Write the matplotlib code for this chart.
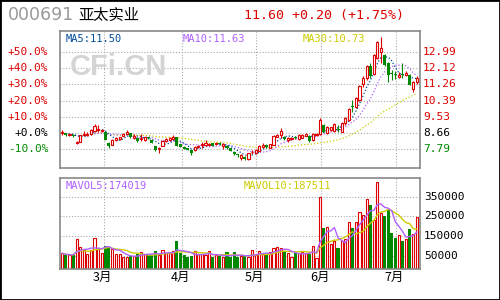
import numpy as np
import pandas as pd
import matplotlib
matplotlib.use('Agg')
import matplotlib.pyplot as plt
from matplotlib.patches import Rectangle

plt.rcParams['font.family'] = ['DejaVu Sans Mono', 'Noto Sans CJK SC']

# ---- data ----
stock_code = '000691'
stock_name = '亚太实业'
quote_text = '11.60 +0.20 (+1.75%)'
ma_text = ['MA5:11.50', 'MA10:11.63', 'MA30:10.73']
mavol_text = ['MAVOL5:174019', 'MAVOL10:187511']

base_price = 8.66
pct_levels = [-10, 0, 10, 20, 30, 40, 50]
price_labels = ['7.79', '8.66', '9.53', '10.39', '11.26', '12.12', '12.99']
vol_levels = [50000, 150000, 250000, 350000]

month_labels = ['3月', '4月', '5月', '6月', '7月']
month_pos = [11.6, 33.4, 54.1, 72.3, 93.2]

opn = np.array([8.66, 8.64, 8.55, 8.55, 8.13, 8.20, 8.55, 8.57, 8.62, 8.76,
                8.80, 8.76, 8.74, 8.14, 8.04, 8.26, 8.35, 8.52, 8.62, 8.64,
                8.38, 8.40, 8.33, 8.28, 8.42, 8.30, 7.94, 7.80, 7.96, 8.23,
                8.27, 8.34, 8.42, 8.05, 7.93, 7.84, 7.75, 7.75, 7.89, 8.00,
                8.02, 8.04, 8.11, 8.05, 8.14, 7.98, 7.98, 7.84, 7.66, 7.52,
                7.34, 7.38, 7.27, 7.62, 7.57, 7.70, 7.93, 8.02, 7.88, 8.02,
                8.46, 8.55, 8.46, 8.29, 8.32, 8.46, 8.34, 8.41, 8.52, 8.50,
                8.27, 8.55, 8.59, 9.09, 8.64, 8.82, 8.78, 8.82, 8.73, 9.18,
                9.35, 10.10, 10.07, 10.42, 11.26, 11.58, 12.24, 11.80, 12.69, 12.97,
                12.83, 12.38, 11.85, 11.80, 11.67, 11.80, 11.76, 11.76, 11.00, 11.40])
high = np.array([8.83, 8.68, 8.62, 8.60, 8.22, 8.57, 8.78, 8.70, 8.87, 9.14,
                 9.08, 8.86, 8.76, 8.20, 8.33, 8.42, 8.46, 8.64, 8.80, 8.68,
                 8.60, 8.44, 8.60, 8.45, 8.46, 8.33, 7.98, 7.92, 8.26, 8.38,
                 8.44, 8.56, 8.44, 8.08, 7.96, 7.88, 7.78, 7.96, 8.02, 8.16,
                 8.28, 8.12, 8.14, 8.16, 8.18, 8.10, 8.00, 7.86, 7.70, 7.56,
                 7.52, 7.42, 7.60, 7.75, 7.80, 8.00, 8.10, 8.06, 8.08, 8.55,
                 8.62, 8.91, 8.50, 8.46, 8.42, 8.50, 8.58, 8.60, 8.64, 8.54,
                 8.64, 8.66, 9.44, 9.14, 9.05, 9.00, 9.18, 9.08, 9.24, 9.50,
                 9.98, 10.42, 10.56, 11.20, 11.70, 12.30, 12.40, 12.88, 13.56, 13.81,
                 12.90, 12.45, 12.00, 11.95, 11.90, 12.38, 11.95, 11.80, 11.45, 11.72])
low = np.array([8.55, 8.50, 8.48, 8.47, 8.08, 8.18, 8.48, 8.52, 8.55, 8.72,
                8.72, 8.70, 8.28, 7.88, 8.02, 8.22, 8.30, 8.48, 8.58, 8.38,
                8.35, 8.18, 8.24, 8.25, 8.34, 8.12, 7.70, 7.58, 7.94, 8.20,
                8.25, 8.30, 7.96, 7.90, 7.78, 7.74, 7.48, 7.72, 7.86, 7.86,
                7.98, 7.98, 7.96, 8.02, 8.02, 7.82, 7.82, 7.68, 7.50, 7.38,
                7.24, 7.20, 7.22, 7.55, 7.54, 7.68, 7.84, 7.88, 7.85, 8.00,
                8.42, 8.38, 8.28, 8.20, 8.28, 8.34, 8.30, 8.38, 8.48, 8.20,
                8.24, 8.50, 8.55, 8.70, 8.60, 8.75, 8.74, 8.70, 8.70, 9.10,
                9.30, 9.80, 10.00, 10.38, 11.10, 11.50, 11.60, 11.75, 12.60, 12.40,
                12.25, 11.40, 11.50, 11.55, 11.60, 11.60, 11.70, 11.20, 10.87, 11.30])
close = np.array([8.70, 8.56, 8.57, 8.52, 8.20, 8.55, 8.60, 8.62, 8.84, 9.05,
                  8.90, 8.80, 8.30, 7.98, 8.30, 8.38, 8.42, 8.59, 8.73, 8.42,
                  8.52, 8.22, 8.41, 8.42, 8.37, 8.15, 7.74, 7.85, 8.24, 8.34,
                  8.41, 8.42, 7.98, 7.93, 7.81, 7.77, 7.61, 7.93, 7.98, 8.03,
                  8.11, 8.06, 7.98, 8.13, 8.05, 8.05, 7.84, 7.70, 7.52, 7.48,
                  7.46, 7.27, 7.57, 7.66, 7.75, 7.96, 8.02, 7.93, 8.05, 8.52,
                  8.55, 8.77, 8.32, 8.38, 8.38, 8.38, 8.55, 8.55, 8.59, 8.23,
                  8.59, 8.59, 9.35, 8.73, 8.96, 8.96, 9.14, 8.80, 9.21, 9.44,
                  9.93, 10.05, 10.51, 11.17, 11.58, 12.24, 11.71, 12.83, 13.54, 13.19,
                  12.30, 11.76, 11.80, 11.74, 11.76, 11.74, 11.85, 11.23, 11.40, 11.60])
volume = np.array([62700, 52500, 52500, 52500, 134200, 93400, 79800, 57600, 79800, 139300,
                   88300, 62700, 101900, 93400, 84800, 57600, 57600, 42300, 42300, 49100,
                   49100, 57600, 67800, 57600, 57600, 54200, 72900, 54200, 78000, 62700,
                   62700, 72900, 124000, 62700, 52500, 44000, 49100, 72900, 57600, 57600,
                   52500, 72900, 42300, 52500, 49100, 42300, 67800, 42300, 67800, 42300,
                   49100, 49100, 44000, 78000, 54200, 72900, 57600, 57600, 67800, 88300,
                   96800, 91700, 72900, 62700, 44000, 62700, 62700, 67800, 62700, 57600,
                   98500, 40000, 347000, 190000, 195000, 110000, 125000, 88000, 125000, 135000,
                   221000, 190000, 221000, 270000, 257000, 337000, 308000, 230000, 423000, 268000,
                   253000, 285000, 166000, 141000, 155000, 126000, 134000, 185000, 163000, 245000])

# ---- style ----
RED = '#dd0000'
GREEN = '#008800'
C_MA5 = '#004c99'
C_MA10 = '#b060ff'
C_MA30 = '#cccc00'
FRAME = '#888888'
GRID = '#aaaaaa'
DOT = (0, (1, 1.6))

x = np.arange(len(close))
up = close >= opn
cs = pd.Series(close)
ma5 = cs.rolling(5, min_periods=1).mean()
ma10 = cs.rolling(10, min_periods=1).mean()
ma30 = cs.rolling(30, min_periods=1).mean()
vs = pd.Series(volume)
mavol5 = vs.rolling(5, min_periods=1).mean()
mavol10 = vs.rolling(10, min_periods=1).mean()

fig = plt.figure(figsize=(5, 3), dpi=100)
fig.patch.set_facecolor('white')
ax = fig.add_axes([0.12, 0.44, 0.72, 0.4567])
axv = fig.add_axes([0.12, 0.1033, 0.72, 0.3033])

xlim = (-0.64, 99.9)
for a in (ax, axv):
    a.set_xlim(*xlim)
    a.set_xticks([])
    a.set_yticks([])
    for s in a.spines.values():
        s.set_color(FRAME)
        s.set_linewidth(1.2)
    for m in month_pos:
        a.axvline(m, color=GRID, lw=0.8, ls=DOT, zorder=0)

# price panel
ax.set_ylim(6.79, 14.11)
for p in pct_levels:
    ax.axhline(base_price * (1 + p / 100), color=GRID, lw=0.8, ls=DOT, zorder=0)

# watermark
ax.text(0.028, 0.68, 'CFi.CN', transform=ax.transAxes, fontsize=21,
        fontweight='bold', family='Liberation Sans', color='#d4d4d4',
        va='baseline', zorder=0)

ax.plot(x, ma30, color=C_MA30, lw=0.9, ls=DOT, zorder=1)
ax.plot(x, ma10, color=C_MA10, lw=0.9, ls=DOT, zorder=1)
ax.plot(x, ma5, color=C_MA5, lw=0.9, ls=DOT, zorder=1)

ax.vlines(x[up], low[up], high[up], color=RED, lw=0.8, zorder=2)
ax.vlines(x[~up], low[~up], high[~up], color=GREEN, lw=0.8, zorder=2)
body_lo = np.minimum(opn, close)
body_h = np.maximum(np.abs(close - opn), 0.05)
ax.bar(x[up], body_h[up], bottom=body_lo[up], width=0.6, facecolor='white',
       edgecolor=RED, lw=0.8, zorder=3)
ax.bar(x[~up], body_h[~up], bottom=body_lo[~up], width=0.84, color=GREEN,
       lw=0, zorder=3)

ytr = ax.get_yaxis_transform()
for p, lab in zip(pct_levels, price_labels):
    yv = base_price * (1 + p / 100)
    col = RED if p > 0 else ('black' if p == 0 else GREEN)
    ax.text(-0.033, yv, '%+.1f%%' % p if p != 0 else '+0.0%', transform=ytr,
            ha='right', va='center', fontsize=8, color=col)
    ax.text(1.008, yv, lab, transform=ytr, ha='left', va='center',
            fontsize=8, color=col)

ax.text(0.016, 0.945, ma_text[0], transform=ax.transAxes, fontsize=7.5,
        color=C_MA5, va='center')
ax.text(0.342, 0.945, ma_text[1], transform=ax.transAxes, fontsize=7.5,
        color=C_MA10, va='center')
ax.text(0.675, 0.945, ma_text[2], transform=ax.transAxes, fontsize=7.5,
        color=C_MA30, va='center')

# volume panel
vol_floor = -17000
axv.set_ylim(vol_floor, 445000)
for v in vol_levels:
    axv.axhline(v, color=GRID, lw=0.8, ls=DOT, zorder=0)
axv.bar(x[up], volume[up] - vol_floor, bottom=vol_floor, width=0.6,
        facecolor='white', edgecolor=RED, lw=0.8, zorder=2)
axv.bar(x[~up], volume[~up] - vol_floor, bottom=vol_floor, width=0.84,
        color=GREEN, lw=0, zorder=2)
axv.plot(x, mavol10, color=C_MA30, lw=1.0, zorder=3)
axv.plot(x, mavol5, color=C_MA10, lw=1.0, zorder=3)

vtr = axv.get_yaxis_transform()
for v in vol_levels:
    axv.text(1.011, v, str(v), transform=vtr, ha='left', va='center',
             fontsize=8, color='black')
axv.text(0.016, 0.915, mavol_text[0], transform=axv.transAxes, fontsize=7.5,
         color=C_MA10, va='center')
axv.text(0.509, 0.915, mavol_text[1], transform=axv.transAxes, fontsize=7.5,
         color=C_MA30, va='center')

for m, lab in zip(month_pos, month_labels):
    axv.text(m - 0.4, -0.09, lab, transform=axv.get_xaxis_transform(),
             ha='center', va='center', fontsize=9, color='black',
             family=['Noto Sans CJK SC', 'DejaVu Sans'])

# header
fig.text(8 / 500, 1 - 15.5 / 300, stock_code, fontsize=12.5, color='#999999',
         va='center', family='DejaVu Sans')
fig.text(78 / 500, 1 - 15 / 300, stock_name, fontsize=11, color='black',
         va='center', family=['Noto Sans CJK SC', 'DejaVu Sans'])
fig.text(244 / 500, 1 - 15 / 300, quote_text, fontsize=9.5, color=RED,
         va='center')

fig.patches.append(Rectangle((0, 0), 1, 1, transform=fig.transFigure,
                             fill=False, ec='black', lw=2))

fig.savefig('out.png', dpi=100)
